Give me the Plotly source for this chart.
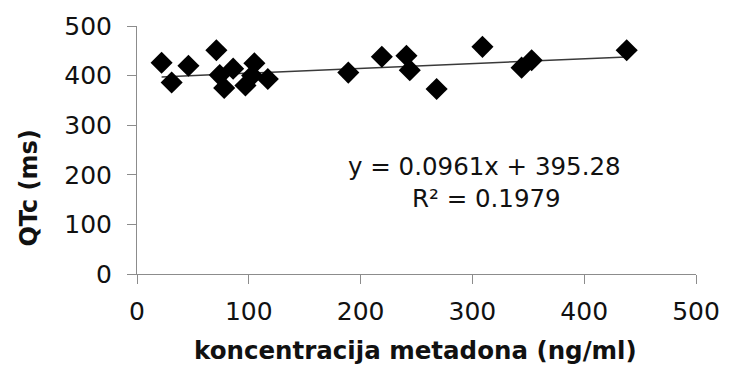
import plotly.graph_objects as go

# Data
konc = [22, 31, 46, 71, 74, 78, 86, 97, 103, 105, 117, 189, 219, 241, 244, 268, 309, 344, 353, 438]
qtc = [426, 386, 420, 451, 401, 375, 414, 380, 400, 425, 393, 406, 438, 440, 411, 373, 458, 416, 431, 451]

slope = 0.0961
intercept = 395.28
eq_text = "y = 0.0961x + 395.28"
r2_text = "R² = 0.1979"

x_ticks = [0, 100, 200, 300, 400, 500]
y_ticks = [0, 100, 200, 300, 400, 500]

x_title = "koncentracija metadona (ng/ml)"
y_title = "QTc (ms)"

FONT = "DejaVu Sans, sans-serif"

xmin, xmax = min(konc), max(konc)
trend_x = [xmin, xmax]
trend_y = [slope * v + intercept for v in trend_x]

fig = go.Figure()
fig.add_trace(go.Scatter(
    x=trend_x, y=trend_y, mode="lines",
    line=dict(color="#3a3a3a", width=1.5),
    showlegend=False, hoverinfo="skip"))
fig.add_trace(go.Scatter(
    x=konc, y=qtc, mode="markers",
    marker=dict(symbol="diamond", size=17, color="black", line=dict(width=0)),
    showlegend=False))

axis_common = dict(
    showgrid=False, zeroline=False, showline=True,
    linecolor="#8c8c8c", linewidth=1,
    ticks="outside", ticklen=9, tickcolor="#8c8c8c", tickwidth=1,
    tickfont=dict(family=FONT, size=25, color="#111111"),
)

fig.update_xaxes(range=[0, 500], tickvals=x_ticks, ticklabelstandoff=6, **axis_common)
fig.update_yaxes(range=[0, 500], tickvals=y_ticks, ticklabelstandoff=10, **axis_common)

fig.add_annotation(
    x=(418 - 136.7) / 565.0, y=-(351 - 274.3) / 249.3,
    xref="paper", yref="paper", text="<b>%s</b>" % x_title,
    showarrow=False, xanchor="center", yanchor="middle",
    font=dict(family=FONT, size=24.5, color="#111111"))
fig.add_annotation(
    x=-(136.7 - 28) / 565.0, y=(274.3 - 188) / 249.3,
    xref="paper", yref="paper", text="<b>%s</b>" % y_title, textangle=-90,
    showarrow=False, xanchor="center", yanchor="middle",
    font=dict(family=FONT, size=24, color="#111111"))

fig.add_annotation(
    x=(488 - 136.7) / 1.13, y=(274.3 - 166.7) / 0.4986,
    xref="x", yref="y", text=eq_text, showarrow=False,
    xanchor="center", yanchor="middle",
    font=dict(family=FONT, size=24.5, color="#111111"))
fig.add_annotation(
    x=(490 - 136.7) / 1.13, y=(274.3 - 198) / 0.4986,
    xref="x", yref="y", text=r2_text, showarrow=False,
    xanchor="center", yanchor="middle",
    font=dict(family=FONT, size=24.5, color="#111111"))

fig.update_layout(
    width=732, height=368,
    margin=dict(l=137, r=30, t=25, b=94),
    paper_bgcolor="white", plot_bgcolor="white",
)

fig.write_html("out.html")
